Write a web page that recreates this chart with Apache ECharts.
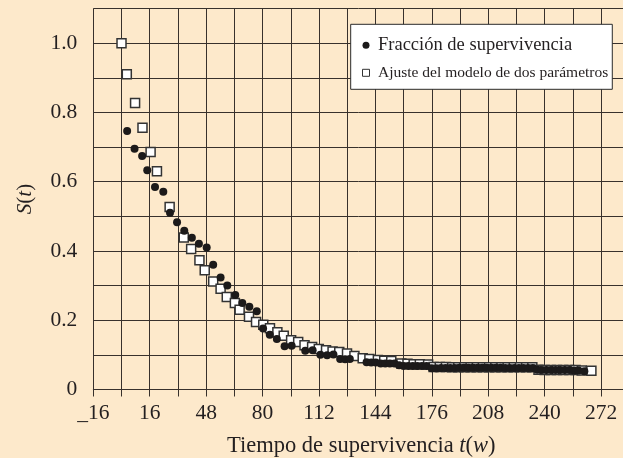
<!DOCTYPE html>
<html>
<head>
<meta charset="utf-8">
<script src="https://cdn.jsdelivr.net/npm/echarts@6/dist/echarts.min.js"></script>
<style>
html,body{margin:0;padding:0;background:#fde9cb;}
#chart{width:623px;height:458px;}
</style>
</head>
<body>
<div id="chart"></div>
<script>
// Series names
const seriesNames = ['Fracción de supervivencia', 'Ajuste del modelo de dos parámetros'];

// Observed survival fraction [t (weeks), S(t)]
const survivalData = [
  [3.2,0.746],[7.4,0.695],[11.7,0.674],[14.6,0.633],[19.0,0.585],[23.7,0.571],[27.5,0.510],
  [31.5,0.483],[35.6,0.458],[39.9,0.438],[43.9,0.421],[48.3,0.410],[52.0,0.360],[56.2,0.323],
  [60.0,0.300],[64.5,0.273],[68.5,0.250],[72.5,0.239],[76.7,0.226],[80.3,0.176],[84.1,0.158],
  [88.1,0.146],[92.5,0.125],[96.5,0.126],[104.2,0.112],[108.4,0.113],[112.8,0.100],[116.6,0.099],
  [120.2,0.101],[124.0,0.088],[126.8,0.087],[129.5,0.088],[139.0,0.079],[141.6,0.078],[144.2,0.078],
  [147.0,0.075],[149.6,0.075],[152.2,0.075],[154.8,0.075],[157.4,0.070],[160.0,0.068],[162.6,0.068],
  [165.2,0.068],[167.8,0.068],[170.4,0.068],[173.0,0.068],[176.0,0.061],[178.6,0.061],[181.2,0.062],
  [183.8,0.062],[186.4,0.062],[189.0,0.062],[191.6,0.063],[194.2,0.063],[196.8,0.063],[199.4,0.063],
  [202.0,0.063],[204.6,0.063],[207.2,0.063],[209.8,0.063],[212.4,0.063],[215.0,0.063],[217.6,0.062],
  [220.2,0.062],[222.8,0.062],[225.4,0.062],[228.0,0.062],[230.6,0.062],[233.2,0.062],[235.8,0.057],
  [238.4,0.056],[241.0,0.056],[243.6,0.056],[246.2,0.056],[248.8,0.056],[251.4,0.056],[254.0,0.056],
  [256.6,0.055],[259.2,0.055],[262.5,0.053]
];

// Two-parameter model fit [t (weeks), S(t)]
const fitData = [
  [0,1.0],[3.0,0.910],[7.7,0.827],[11.9,0.756],[16.5,0.686],[20.1,0.630],[27.3,0.527],[35.3,0.439],
  [39.5,0.406],[44.2,0.373],[47.2,0.344],[52.0,0.312],[56.2,0.291],[59.7,0.267],[64.3,0.250],
  [67.0,0.230],[72.3,0.210],[76.3,0.195],[80.4,0.187],[84.2,0.177],[88.4,0.165],[92.0,0.155],
  [96.2,0.142],[100.2,0.137],[103.8,0.128],[108.1,0.123],[111.9,0.117],[116.0,0.113],[119.7,0.110],
  [123.5,0.108],[127.9,0.104],[132.1,0.097],[136.8,0.090],[140.6,0.088],[145.4,0.085],[149.0,0.083],
  [153.0,0.082],[158.7,0.075],[162.2,0.074],[165.7,0.073],[169.2,0.073],[173.9,0.072],[177.0,0.065],
  [180.5,0.065],[184.0,0.065],[187.5,0.064],[191.0,0.064],[194.5,0.064],[198.0,0.064],[201.5,0.064],
  [205.0,0.064],[208.5,0.064],[212.0,0.064],[215.5,0.064],[219.0,0.064],[222.5,0.064],[226.0,0.064],
  [229.5,0.064],[233.0,0.064],[236.5,0.057],[240.0,0.056],[243.5,0.056],[247.0,0.056],[250.5,0.056],
  [254.0,0.056],[257.5,0.056],[261.0,0.055],[266.5,0.054]
];

// Tick labels
const xTickValues = [-16, 16, 48, 80, 112, 144, 176, 208, 240, 272];
const xTickLabels = ['_16', '16', '48', '80', '112', '144', '176', '208', '240', '272'];
const yTickValues = [0, 2, 4, 6, 8, 10]; // tenths
const yTickLabels = ['0', '0.2', '0.4', '0.6', '0.8', '1.0'];

const ink = '#231f20';
const gridInk = '#38312c';
const font = 'Liberation Serif';

const chart = echarts.init(document.getElementById('chart'), null, {renderer: 'canvas'});
chart.setOption({
  animation: false,
  backgroundColor: '#fde9cb',
  textStyle: {fontFamily: font, color: ink},
  grid: {left: 93.3, right: -6.3, top: 8.5, bottom: 68.5, outerBoundsMode: 'none'},
  legend: {
    orient: 'vertical',
    left: 350.7,
    top: 24.3,
    padding: [11.5, 4, 8.5, 11.3],
    itemGap: 10,
    itemWidth: 14,
    itemHeight: 7,
    symbolKeepAspect: true,
    backgroundColor: '#ffffff',
    borderColor: '#2a2a2a',
    borderWidth: 1,
    borderRadius: 0,
    textStyle: {fontFamily: font, color: ink, fontSize: 18.5},
    data: [
      {name: seriesNames[0], icon: 'circle', textStyle: {fontSize: 18.5}},
      {name: seriesNames[1], icon: 'path://M0,0L10,0L10,10L0,10Z', itemStyle: {color: '#ffffff', borderColor: '#333333', borderWidth: 1}, textStyle: {fontSize: 15.5}}
    ]
  },
  xAxis: {
    type: 'value',
    min: -16, max: 288, interval: 16,
    name: 'Tiempo de supervivencia {i|t}({i|w})',
    nameLocation: 'middle',
    nameGap: 45,
    nameTextStyle: {fontFamily: font, fontSize: 22.5, color: ink, rich: {i: {fontFamily: font, fontSize: 22.5, fontStyle: 'italic', color: ink}}},
    axisLine: {show: true, onZero: false, lineStyle: {color: gridInk, width: 1}},
    axisTick: {show: true, inside: false, length: 7, lineStyle: {color: gridInk, width: 1}},
    splitLine: {show: true, lineStyle: {color: gridInk, width: 1}},
    axisLabel: {
      margin: 13, fontFamily: font, fontSize: 21.5, color: ink,
      formatter: function (v) {
        const i = xTickValues.indexOf(Math.round(v));
        return i >= 0 ? xTickLabels[i] : '';
      }
    }
  },
  yAxis: {
    type: 'value',
    min: 0, max: 1.1, interval: 0.1,
    name: '{i|S}({i|t})',
    nameLocation: 'middle',
    nameGap: 57,
    nameRotate: 90,
    nameTextStyle: {fontFamily: font, fontSize: 21, color: ink, rich: {i: {fontFamily: font, fontSize: 21, fontStyle: 'italic', color: ink}}},
    axisLine: {show: true, lineStyle: {color: gridInk, width: 1}},
    axisTick: {show: true, inside: false, length: 7, lineStyle: {color: gridInk, width: 1}},
    splitLine: {show: true, lineStyle: {color: gridInk, width: 1}},
    axisLabel: {
      margin: 16, fontFamily: font, fontSize: 21.5, color: ink,
      formatter: function (v) {
        const i = yTickValues.indexOf(Math.round(v * 10));
        return i >= 0 ? yTickLabels[i] : '';
      }
    }
  },
  series: [
    {
      name: seriesNames[1],
      type: 'scatter',
      data: fitData,
      symbol: 'rect',
      symbolSize: 9,
      itemStyle: {color: '#ffffff', borderColor: '#333333', borderWidth: 1.5, opacity: 1}
    },
    {
      name: seriesNames[0],
      type: 'scatter',
      data: survivalData,
      symbol: 'circle',
      symbolSize: 8,
      itemStyle: {color: '#1c1a1a', opacity: 1}
    }
  ]
});
</script>
</body>
</html>
